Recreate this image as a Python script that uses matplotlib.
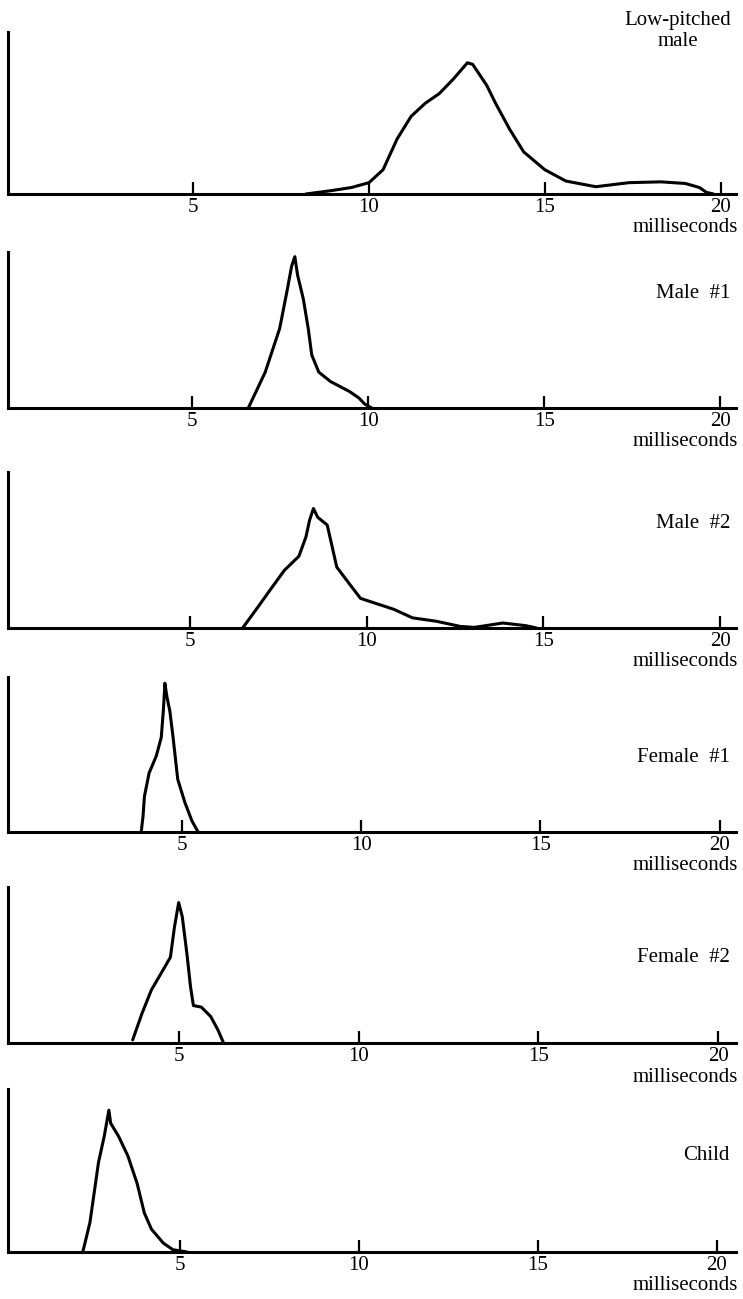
import matplotlib.pyplot as plt

# Histograms of pitch period (ms) for six speakers; heights are relative
# to the height of each panel's vertical axis.
LOW_MALE_MS = [8.2, 8.9, 9.5, 10.0, 10.4, 10.8, 11.2, 11.6, 12.0, 12.4, 12.8,
               12.95, 13.35, 13.6, 14.0, 14.4, 15.0, 15.6, 16.45, 17.4, 18.3,
               19.0, 19.4, 19.6, 19.8]
LOW_MALE_H = [0.0, 0.02, 0.04, 0.07, 0.15, 0.34, 0.48, 0.56, 0.62, 0.71, 0.81,
              0.80, 0.67, 0.56, 0.40, 0.26, 0.15, 0.08, 0.045, 0.07, 0.075,
              0.065, 0.04, 0.01, 0.0]

MALE1_MS = [6.6, 7.08, 7.49, 7.69, 7.83, 7.92, 8.0, 8.16, 8.3, 8.4, 8.6, 8.93,
            9.47, 9.74, 9.9, 10.1]
MALE1_H = [0.0, 0.23, 0.51, 0.74, 0.91, 0.97, 0.85, 0.70, 0.51, 0.34, 0.23,
           0.17, 0.106, 0.064, 0.026, 0.0]

MALE2_MS = [6.5, 6.95, 7.28, 7.68, 8.09, 8.29, 8.39, 8.5, 8.62, 8.89, 9.16,
            9.56, 9.83, 10.23, 10.77, 11.3, 11.98, 12.65, 13.05, 13.85, 14.5,
            14.8]
MALE2_H = [0.0, 0.14, 0.245, 0.37, 0.46, 0.585, 0.69, 0.766, 0.71, 0.66, 0.39,
           0.27, 0.19, 0.16, 0.12, 0.065, 0.043, 0.01, 0.004, 0.032, 0.015,
           0.0]

FEMALE1_MS = [3.85, 3.9, 3.94, 4.07, 4.27, 4.41, 4.47, 4.5, 4.51, 4.57, 4.65,
              4.74, 4.87, 5.07, 5.27, 5.44]
FEMALE1_H = [0.0, 0.10, 0.23, 0.38, 0.49, 0.61, 0.79, 0.91, 0.96, 0.87, 0.78,
             0.61, 0.34, 0.19, 0.07, 0.0]

FEMALE2_MS = [3.71, 3.97, 4.23, 4.56, 4.76, 4.87, 4.99, 5.09, 5.22, 5.32, 5.4,
              5.62, 5.88, 6.08, 6.24]
FEMALE2_H = [0.02, 0.19, 0.34, 0.47, 0.55, 0.74, 0.90, 0.81, 0.57, 0.36, 0.24,
             0.23, 0.17, 0.085, 0.0]

CHILD_MS = [2.28, 2.48, 2.72, 2.88, 3.01, 3.06, 3.28, 3.54, 3.8, 4.0, 4.2,
            4.53, 4.8, 5.2]
CHILD_H = [0.0, 0.18, 0.55, 0.71, 0.87, 0.79, 0.71, 0.59, 0.42, 0.24, 0.14,
           0.055, 0.014, 0.0]

LABELS = ["Low-pitched\nmale", "Male  #1", "Male  #2", "Female  #1",
          "Female  #2", "Child"]
TICKS = [5, 10, 15, 20]

SERIES = [
    (LOW_MALE_MS, LOW_MALE_H),
    (MALE1_MS, MALE1_H),
    (MALE2_MS, MALE2_H),
    (FEMALE1_MS, FEMALE1_H),
    (FEMALE2_MS, FEMALE2_H),
    (CHILD_MS, CHILD_H),
]

# layout in pixels: (axis top, baseline), x view limits, label centre y
W, H = 743, 1299
AX_Y = [(32, 194), (252, 408), (472, 628), (677, 832), (887, 1043), (1089, 1252)]
XLIMS = [(-0.27, 20.44), (-0.22, 20.44), (-0.13, 20.44), (0.13, 20.46),
         (0.24, 20.5), (0.19, 20.54)]
LABEL_Y = [31, 294, 523, 758, 958, 1156]
AX_LEFT, AX_RIGHT = 8, 736

plt.rcParams["font.family"] = ["Liberation Serif", "DejaVu Serif"]
FS = 15

fig = plt.figure(figsize=(W / 100, H / 100), dpi=100)

for i, ((xs, ys), label) in enumerate(zip(SERIES, LABELS)):
    top, base = AX_Y[i]
    ax = fig.add_axes([AX_LEFT / W, 1 - base / H,
                       (AX_RIGHT - AX_LEFT) / W, (base - top) / H])
    ax.plot(xs, ys, color="black", lw=2.2, solid_joinstyle="round",
            solid_capstyle="round", clip_on=False)
    ax.set_xlim(*XLIMS[i])
    ax.set_ylim(0, 1)

    for side in ("top", "right"):
        ax.spines[side].set_visible(False)
    for side in ("left", "bottom"):
        ax.spines[side].set_linewidth(2.2)
        ax.spines[side].set_color("black")

    ax.set_yticks([])
    ax.set_xticks(TICKS)
    ax.set_xticklabels([str(t) for t in TICKS], fontsize=FS)
    ax.tick_params(axis="x", direction="in", length=8.5, width=1.6, pad=3)

    fig.text((AX_RIGHT + 2) / W, 1 - (base + 34) / H, "milliseconds",
             ha="right", va="center", fontsize=FS)

    if i == 0:
        fig.text(678 / W, 1 - LABEL_Y[i] / H, label, ha="center", va="center",
                 multialignment="center", fontsize=FS, linespacing=1.2)
    else:
        fig.text(730 / W, 1 - LABEL_Y[i] / H, label, ha="right", va="center",
                 fontsize=FS)

fig.savefig("out.png", dpi=100, facecolor="white")
